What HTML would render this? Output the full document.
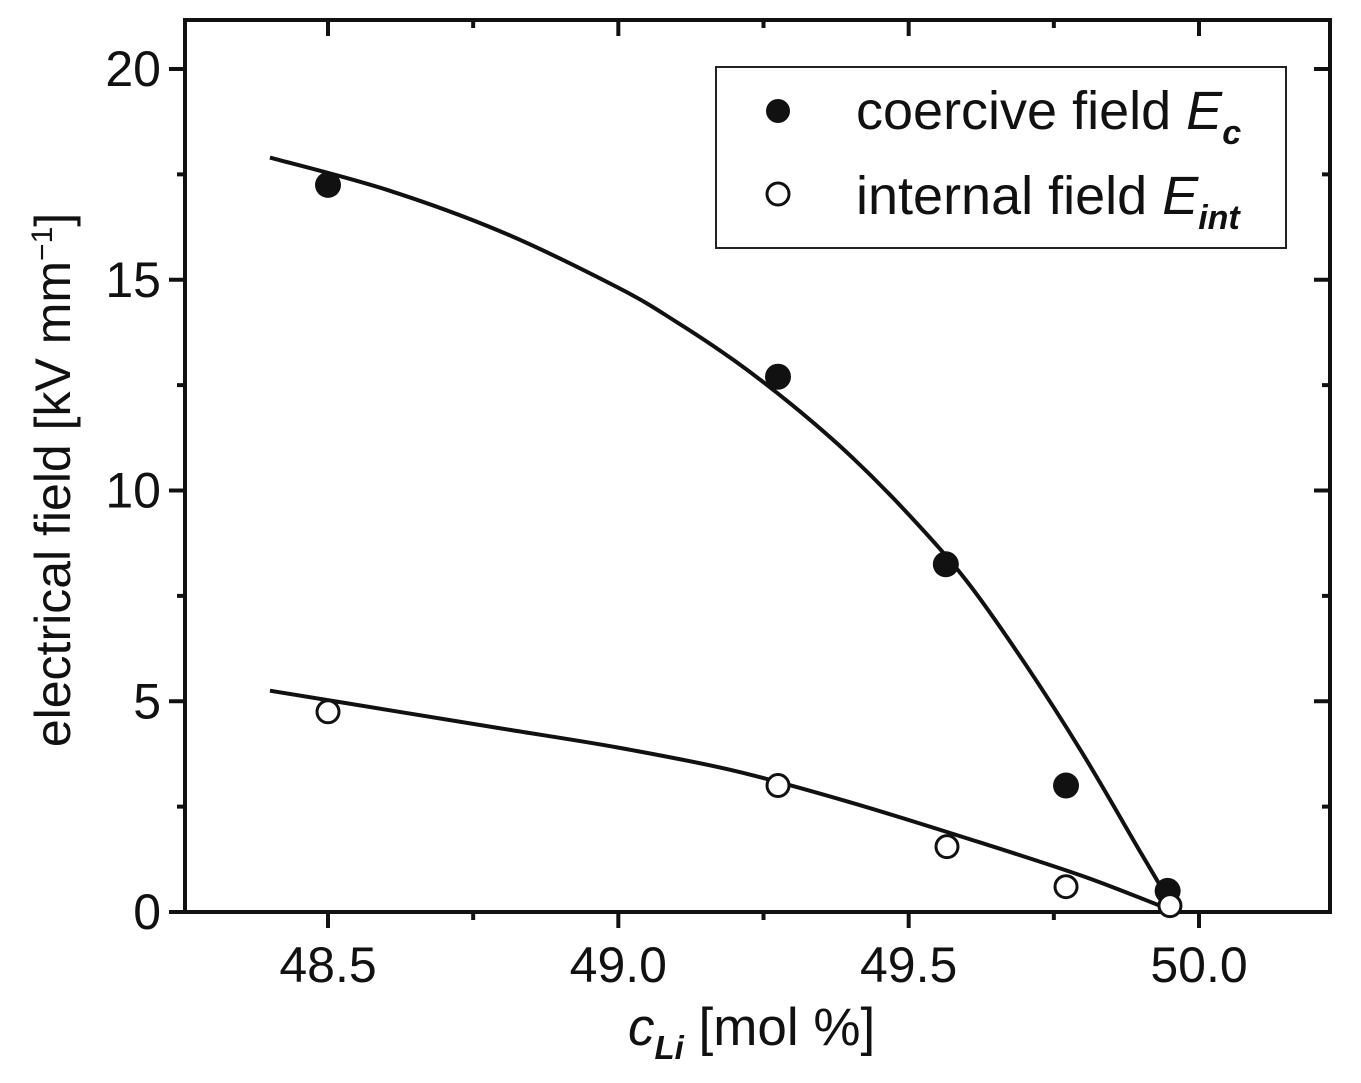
<!DOCTYPE html>
<html><head><meta charset="utf-8"><style>
body{margin:0;background:#fff;}
svg{display:block;font-family:"Liberation Sans",sans-serif;}
</style></head><body>
<svg id="chart" width="1361" height="1083" viewBox="0 0 1361 1083">
<g id="plot"></g>
<text x="0" y="0" font-size="50" text-anchor="middle" transform="translate(70 480) rotate(-90)" fill="#111">electrical field [kV mm<tspan font-size="30" dy="-18">−1</tspan><tspan dy="18">]</tspan></text>
<text x="628" y="1045" font-size="53" fill="#111"><tspan font-style="italic">c</tspan><tspan font-style="italic" font-weight="bold" font-size="33" dy="14">Li</tspan><tspan dy="-14"> [mol %]</tspan></text>
<g>
<rect x="716" y="67" width="570" height="181" fill="#fff" stroke="#222" stroke-width="2"/>
<circle cx="778" cy="111" r="12" fill="#111"/>
<text x="856" y="129" font-size="54" fill="#111">coercive field <tspan font-style="italic">E</tspan><tspan font-style="italic" font-weight="bold" font-size="34" dy="15">c</tspan></text>
<circle cx="778" cy="194" r="11" fill="#fff" stroke="#111" stroke-width="3"/>
<text x="856" y="214" font-size="54" fill="#111">internal field <tspan font-style="italic">E</tspan><tspan font-style="italic" font-weight="bold" font-size="34" dy="15">int</tspan></text>
</g>
</svg>
<script>
const xTicks=[48.5,49.0,49.5,50.0];
const xTickLabels=["48.5","49.0","49.5","50.0"];
const yTicks=[0,5,10,15,20];
const yTickLabels=["0","5","10","15","20"];
const coerciveX=[48.5,49.275,49.564,49.771,49.946];
const coerciveY=[17.25,12.7,8.25,3.0,0.5];
const internalX=[48.5,49.275,49.566,49.771,49.95];
const internalY=[4.75,3.0,1.55,0.6,0.15];
const coerciveFitX=[48.4,48.6,48.8,49.0,49.1,49.2,49.3,49.4,49.5,49.6,49.7,49.8,49.9,49.96];
const coerciveFitY=[17.9,17.14,16.13,14.81,14.0,13.08,12.02,10.82,9.43,7.85,5.9,3.75,1.4,0];
const internalFitX=[48.4,48.6,48.8,49.0,49.2,49.4,49.6,49.8,49.96];
const internalFitY=[5.25,4.8,4.35,3.9,3.35,2.6,1.75,0.85,0];

const L=185,R=1330,T=20,B=912;
const sx=v=>328+(v-48.5)*(1199-328)/1.5;
const sy=v=>912-v*(912-69)/20;
const NS="http://www.w3.org/2000/svg";
const g=document.getElementById('plot');
function mk(t,a){const e=document.createElementNS(NS,t);for(const k in a)e.setAttribute(k,a[k]);g.appendChild(e);return e;}
let e=mk('rect',{x:L,y:T,width:R-L,height:B-T,fill:'none',stroke:'#111','stroke-width':4});


for(let v=48.5;v<=50.01;v+=0.25){
 const x=sx(v),major=xTicks.some(t=>Math.abs(t-v)<1e-6);
 const len=major?16:8;
 e=mk('line',{x1:x,x2:x,y1:B,y2:B+len,stroke:'#111','stroke-width':4});
 
 
 e=mk('line',{x1:x,x2:x,y1:T,y2:T+len,stroke:'#111','stroke-width':4});
 
 
}
xTicks.forEach((v,i)=>{
 e=mk('text',{x:sx(v),y:B+70,'font-size':50,'text-anchor':'middle',fill:'#111'});
 e.textContent=xTickLabels[i];
 
 
});
for(let v=0;v<=20.01;v+=2.5){
 const y=sy(v),major=Math.abs(v%5)<1e-6;
 const len=major?16:8;
 e=mk('line',{x1:L-len,x2:L,y1:y,y2:y,stroke:'#111','stroke-width':4});
 
 
 e=mk('line',{x1:R-len,x2:R,y1:y,y2:y,stroke:'#111','stroke-width':4});
 
 
}
yTicks.forEach((v,i)=>{
 e=mk('text',{x:L-24,y:sy(v)+17,'font-size':50,'text-anchor':'end',fill:'#111'});
 e.textContent=yTickLabels[i];
 
 
});
function curve(xs,ys,name){
 let d='';
 const n=xs.length;
 for(let i=0;i<n;i++){
  if(i===0){d+='M'+sx(xs[0])+','+sy(ys[0]);continue;}
  const p0=[sx(xs[Math.max(i-2,0)]),sy(ys[Math.max(i-2,0)])],p1=[sx(xs[i-1]),sy(ys[i-1])],p2=[sx(xs[i]),sy(ys[i])],p3=[sx(xs[Math.min(i+1,n-1)]),sy(ys[Math.min(i+1,n-1)])];
  const c1=[p1[0]+(p2[0]-p0[0])/6,p1[1]+(p2[1]-p0[1])/6],c2=[p2[0]-(p3[0]-p1[0])/6,p2[1]-(p3[1]-p1[1])/6];
  d+=' C'+c1+' '+c2+' '+p2;
 }
 e=mk('path',{d:d,fill:'none',stroke:'#111','stroke-width':4});
 
 
}
curve(coerciveFitX,coerciveFitY,'coercive-fit-line');
curve(internalFitX,internalFitY,'internal-fit-line');
coerciveX.forEach((v,i)=>{
 e=mk('circle',{cx:sx(v),cy:sy(coerciveY[i]),r:13,fill:'#111'});
 
 
});
internalX.forEach((v,i)=>{
 e=mk('circle',{cx:sx(v),cy:sy(internalY[i]),r:11,fill:'#fff',stroke:'#111','stroke-width':3});
 
 
});
</script>
</body></html>
